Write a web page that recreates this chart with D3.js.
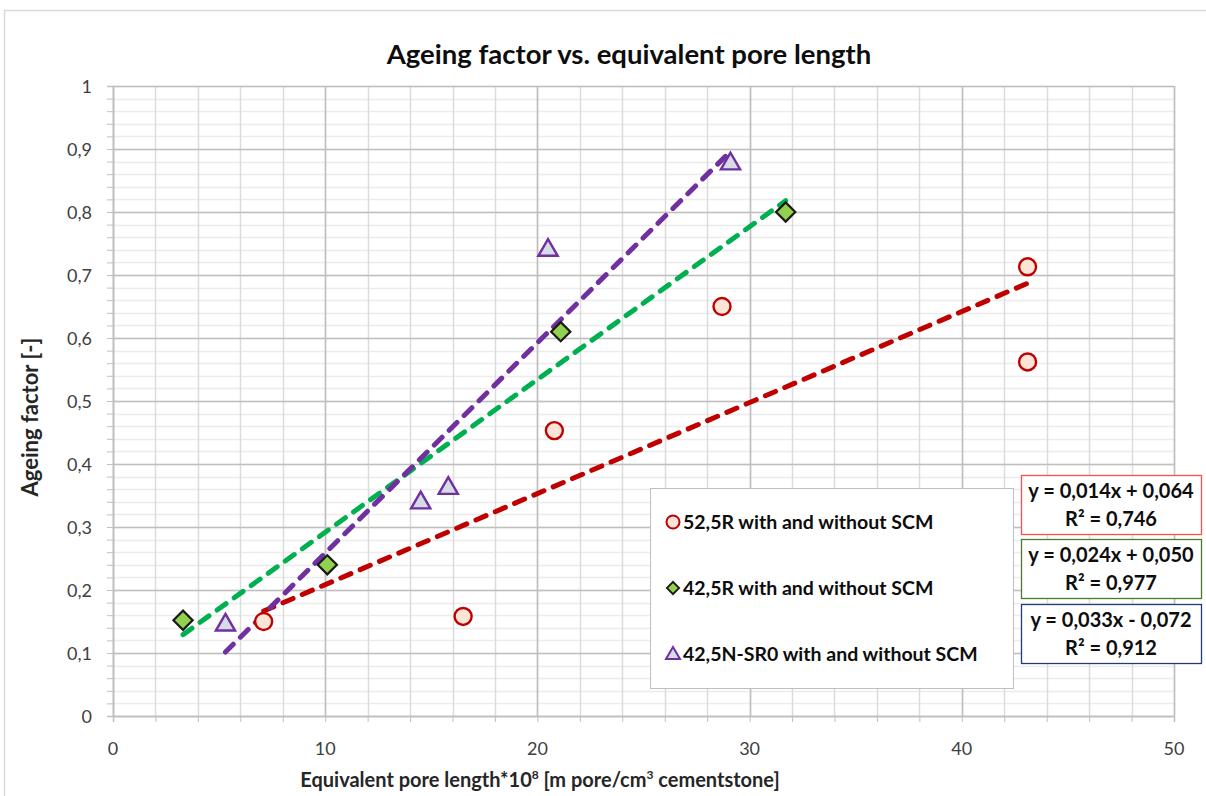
<!DOCTYPE html>
<html><head><meta charset="utf-8">
<script src="https://cdn.jsdelivr.net/npm/d3@7"></script>
<style>body{margin:0;background:#fff}svg{display:block}text{font-family:Lato,"Open Sans",sans-serif}</style>
</head><body><svg id="c" width="1206" height="796"></svg>
<script>
// ---- data ----
const seriesNames = ["52,5R with and without SCM", "42,5R with and without SCM", "42,5N-SR0 with and without SCM"];
const s1x = [7.1, 16.5, 20.8, 28.7, 43.1, 43.1];
const s1y = [0.150, 0.158, 0.453, 0.650, 0.713, 0.562];
const s2x = [3.3, 10.1, 21.1, 31.7];
const s2y = [0.152, 0.240, 0.610, 0.800];
const s3x = [5.3, 14.5, 15.8, 20.5, 29.1];
const s3y = [0.146, 0.340, 0.363, 0.741, 0.878];
const eqLines = [["y = 0,014x + 0,064", "R² = 0,746"], ["y = 0,024x + 0,050", "R² = 0,977"], ["y = 0,033x - 0,072", "R² = 0,912"]];
const xTicks = [0, 10, 20, 30, 40, 50];
const yTicks = [0, 0.1, 0.2, 0.3, 0.4, 0.5, 0.6, 0.7, 0.8, 0.9, 1];
const title = "Ageing factor vs. equivalent pore length";
const yTitle = "Ageing factor [-]";

const svg = d3.select("#c");
const x = d3.scaleLinear().domain([0, 50]).range([113, 1174]);
const y = d3.scaleLinear().domain([0, 1]).range([716, 86]);
const fmt = v => String(+v.toFixed(2)).replace(".", ",");

// chart frame
svg.append("rect").attr("x", 4.5).attr("y", 10.5).attr("width", 1220).attr("height", 800)
  .attr("fill", "#fff").attr("stroke", "#d9d9d9").attr("stroke-width", 1.5);

// grid
const g = svg.append("g");
const minorX = d3.range(0, 50.001, 2), minorY = d3.range(0, 1.0001, 0.02);
g.selectAll(".hy").data(minorY).join("line")
  .attr("x1", x(0)).attr("x2", x(50)).attr("y1", d => Math.round(y(d)) + 0.5).attr("y2", d => Math.round(y(d)) + 0.5)
  .attr("stroke", "#ececec").attr("stroke-width", 1.5);
g.selectAll(".vx").data(minorX).join("line")
  .attr("y1", y(0)).attr("y2", y(1)).attr("x1", d => Math.round(x(d)) + 0.5).attr("x2", d => Math.round(x(d)) + 0.5)
  .attr("stroke", "#dcdcdc").attr("stroke-width", 1.5);
g.selectAll(".hm").data(yTicks).join("line")
  .attr("x1", x(0)).attr("x2", x(50)).attr("y1", d => Math.round(y(d)) + 0.5).attr("y2", d => Math.round(y(d)) + 0.5)
  .attr("stroke", "#bfbfbf").attr("stroke-width", 1.5);
g.selectAll(".vm").data(xTicks).join("line")
  .attr("y1", y(0)).attr("y2", y(1)).attr("x1", d => Math.round(x(d)) + 0.5).attr("x2", d => Math.round(x(d)) + 0.5)
  .attr("stroke", "#bfbfbf").attr("stroke-width", 1.5);

// axes
const ax = svg.append("g").attr("transform", `translate(0,${y(0)})`)
  .call(d3.axisBottom(x).tickValues(minorX).tickSize(6).tickFormat(""));
ax.select(".domain").attr("stroke", "#bfbfbf").attr("stroke-width", 1.5);
ax.selectAll(".tick line").attr("stroke", "#bfbfbf");
const ay = svg.append("g").attr("transform", `translate(${x(0)},0)`)
  .call(d3.axisLeft(y).tickValues(minorY).tickSize(6).tickFormat(""));
ay.select(".domain").attr("stroke", "#bfbfbf").attr("stroke-width", 1.5);
ay.selectAll(".tick line").attr("stroke", "#bfbfbf");

svg.append("g").selectAll("text").data(xTicks).join("text")
  .attr("x", d => x(d)).attr("y", 755).attr("text-anchor", "middle")
  .attr("font-size", 18).attr("fill", "#404040").text(d => d);
svg.append("g").selectAll("text").data(yTicks).join("text")
  .attr("x", 92).attr("y", d => y(d) + 6.5).attr("text-anchor", "end")
  .attr("font-size", 18).attr("fill", "#404040").text(fmt);

// titles
svg.append("text").attr("x", 629).attr("y", 64).attr("text-anchor", "middle")
  .attr("font-size", 27.5).attr("font-weight", "bold").attr("fill", "#0d0d0d").text(title);
const xt = svg.append("text").attr("x", 540).attr("y", 787).attr("text-anchor", "middle")
  .attr("font-size", 20).attr("font-weight", "bold").attr("fill", "#262626");
xt.append("tspan").text("Equivalent pore length*10");
xt.append("tspan").attr("font-size", 12).attr("dy", -8).text("8");
xt.append("tspan").attr("dy", 8).text(" [m pore/cm");
xt.append("tspan").attr("font-size", 12).attr("dy", -8).text("3");
xt.append("tspan").attr("dy", 8).text(" cementstone]");
svg.append("text").attr("transform", "translate(38,417) rotate(-90)").attr("text-anchor", "middle")
  .attr("font-size", 22).attr("font-weight", "bold").attr("fill", "#262626").text(yTitle);

// trendlines (least squares from data)
function fit(xs, ys) {
  const mx = d3.mean(xs), my = d3.mean(ys);
  const sxy = d3.sum(xs, (v, i) => (v - mx) * (ys[i] - my));
  const sxx = d3.sum(xs, v => (v - mx) * (v - mx));
  const b = sxy / sxx;
  return [[d3.min(xs), my + b * (d3.min(xs) - mx)], [d3.max(xs), my + b * (d3.max(xs) - mx)]];
}
const trendColors = ["#c00000", "#00b050", "#7030a0"];
const series = [[s1x, s1y], [s2x, s2y], [s3x, s3y]];
const line = d3.line().x(d => x(d[0])).y(d => y(d[1]));
series.forEach((s, i) => {
  svg.append("path").attr("d", line(fit(s[0], s[1]))).attr("fill", "none")
    .attr("stroke", trendColors[i]).attr("stroke-width", 5)
    .attr("stroke-dasharray", "11 10").attr("stroke-linecap", "round");
});

// markers
const tri = d3.symbol().type(d3.symbolTriangle).size(160);
const dia = d3.symbol().type(d3.symbolSquare).size(185);
function drawMarker(sel, k, cx, cy) {
  if (k === 0) sel.append("circle").attr("cx", cx).attr("cy", cy).attr("r", 8.5)
    .attr("fill", "#fce4d6").attr("stroke", "#c00000").attr("stroke-width", 2.4);
  else if (k === 1) sel.append("path").attr("d", dia()).attr("transform", `translate(${cx},${cy}) rotate(45)`)
    .attr("fill", "#92d050").attr("stroke", "#1a1a1a").attr("stroke-width", 2.2);
  else sel.append("path").attr("d", tri()).attr("transform", `translate(${cx},${cy + 1})`)
    .attr("fill", "#d6dce5").attr("stroke", "#7030a0").attr("stroke-width", 2.4);
}
series.forEach((s, k) => {
  s[0].forEach((v, i) => drawMarker(svg, k, x(v), y(s[1][i])));
});

// legend
svg.append("rect").attr("x", 650.5).attr("y", 488.5).attr("width", 363).attr("height", 200)
  .attr("fill", "#fff").attr("stroke", "#bfbfbf").attr("stroke-width", 1);
seriesNames.forEach((n, k) => {
  const ly = 522 + k * 66;
  const lg = svg.append("g");
  if (k === 0) lg.append("circle").attr("cx", 673).attr("cy", ly).attr("r", 6.5)
    .attr("fill", "#fce4d6").attr("stroke", "#c00000").attr("stroke-width", 2);
  else if (k === 1) lg.append("path").attr("d", d3.symbol().type(d3.symbolSquare).size(75)())
    .attr("transform", `translate(673,${ly}) rotate(45)`).attr("fill", "#92d050").attr("stroke", "#1a1a1a").attr("stroke-width", 1.8);
  else lg.append("path").attr("d", d3.symbol().type(d3.symbolTriangle).size(85)())
    .attr("transform", `translate(673,${ly + 1})`).attr("fill", "#d6dce5").attr("stroke", "#7030a0").attr("stroke-width", 2);
  lg.append("text").attr("x", 683).attr("y", ly + 7).attr("font-size", 19.5).attr("font-weight", "bold")
    .attr("fill", "#0d0d0d").text(n);
});

// equation boxes
const boxColors = ["#ff4d4d", "#4e7a2c", "#1f3c78"];
const boxTops = [475, 539, 604];
eqLines.forEach((lines, k) => {
  const by = boxTops[k];
  svg.append("rect").attr("x", 1021.5).attr("y", by + 0.5).attr("width", 180).attr("height", 59)
    .attr("fill", "#fff").attr("stroke", boxColors[k]).attr("stroke-width", 1.3);
  lines.forEach((t, j) => svg.append("text").attr("x", 1111).attr("y", by + 23 + j * 28)
    .attr("text-anchor", "middle").attr("font-size", 20).attr("font-weight", "bold").attr("fill", "#0d0d0d").text(t));
});
</script></body></html>
